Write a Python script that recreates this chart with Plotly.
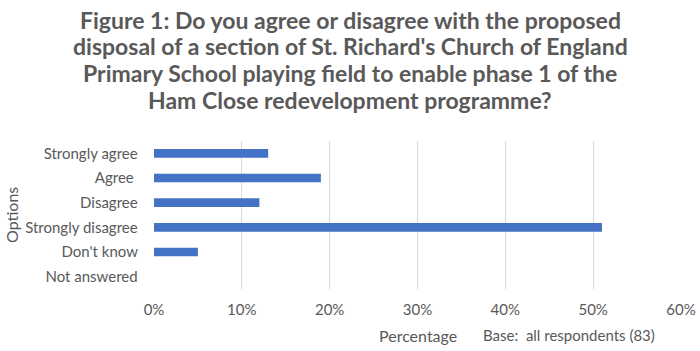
import plotly.graph_objects as go

categories = ["Strongly agree", "Agree ", "Disagree", "Strongly disagree", "Don't know", "Not answered"]
values = [13, 19, 12, 51, 5, 0]
tick_vals = [0, 10, 20, 30, 40, 50, 60]
tick_text = ["0%", "10%", "20%", "30%", "40%", "50%", "60%"]
title_lines = [
    "Figure 1: Do you agree or disagree with the proposed",
    "disposal of a section of St. Richard's Church of England",
    "Primary School playing field to enable phase 1 of the",
    "Ham Close redevelopment programme?",
]

FONT = "Lato"
GREY = "#595959"
W, H = 700, 351
L, R, T, B = 154, 19, 141, 62
plot_w = W - L - R
plot_h = H - T - B


def px_x(px):
    return (px - L) / plot_w


def px_y(py):
    return (H - B - py) / plot_h


fig = go.Figure(go.Bar(
    y=categories, x=values, orientation="h",
    marker=dict(color="#4472C4", line=dict(width=0)),
    width=0.35,
))

fig.update_layout(
    width=W, height=H,
    margin=dict(l=L, r=R, t=T, b=B),
    paper_bgcolor="white", plot_bgcolor="white",
    font=dict(family=FONT, color=GREY, size=15),
    showlegend=False,
    xaxis=dict(
        range=[0, 60], tickvals=tick_vals, ticktext=tick_text,
        showgrid=True, gridcolor="#d9d9d9", gridwidth=1,
        zeroline=False, showline=False, ticks="",
        tickfont=dict(size=15, color=GREY), ticklabelstandoff=10,
        automargin=False,
    ),
    yaxis=dict(
        categoryorder="array", categoryarray=categories,
        autorange="reversed",
        showgrid=False, zeroline=False, showline=False, ticks="",
        tickfont=dict(size=15, color=GREY), ticksuffix="    ",
        automargin=False,
    ),
)

title_y = [20, 46, 73, 100]
for line, py in zip(title_lines, title_y):
    fig.add_annotation(
        text="<b>" + line + "</b>", x=px_x(350), y=px_y(py),
        xref="paper", yref="paper", xanchor="center", yanchor="middle",
        showarrow=False, font=dict(family=FONT, size=23, color=GREY),
    )

fig.add_annotation(
    text="Options", x=px_x(11), y=px_y(215), textangle=-90,
    xref="paper", yref="paper", xanchor="center", yanchor="middle",
    showarrow=False, font=dict(size=16, color=GREY, family=FONT),
)
fig.add_annotation(
    text="Percentage", x=px_x(418), y=px_y(335),
    xref="paper", yref="paper", xanchor="center", yanchor="middle",
    showarrow=False, font=dict(size=16, color=GREY, family=FONT),
)
fig.add_annotation(
    text="Base:  all respondents (83)", x=px_x(481), y=px_y(335),
    xref="paper", yref="paper", xanchor="left", yanchor="middle",
    showarrow=False, font=dict(size=15, color=GREY, family=FONT),
)
fig.write_html("out.html")
